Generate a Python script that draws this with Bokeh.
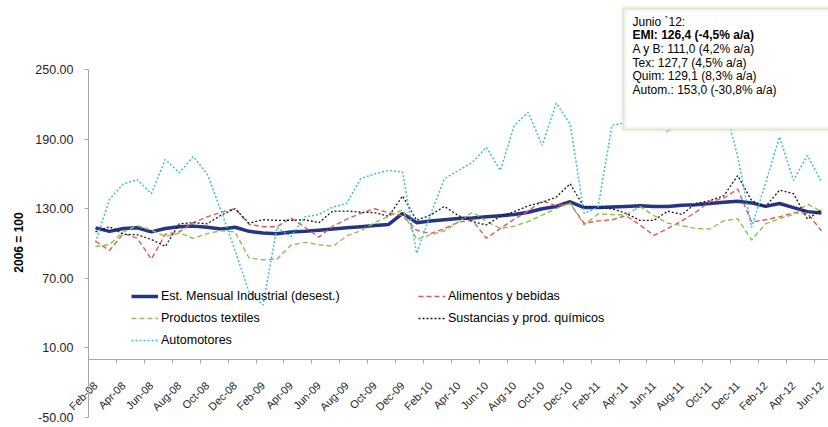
import numpy as np
from bokeh.plotting import figure
from bokeh.models import (FixedTicker, PrintfTickFormatter, Range1d, Legend, LegendItem,
                          BoxAnnotation, Label, ColumnDataSource)
from bokeh.embed import file_html
from bokeh.resources import INLINE

months = ["Feb-08", "Mar-08", "Apr-08", "May-08", "Jun-08", "Jul-08", "Aug-08", "Sep-08", "Oct-08", "Nov-08", "Dec-08",
          "Jan-09", "Feb-09", "Mar-09", "Apr-09", "May-09", "Jun-09", "Jul-09", "Aug-09", "Sep-09", "Oct-09", "Nov-09", "Dec-09",
          "Jan-10", "Feb-10", "Mar-10", "Apr-10", "May-10", "Jun-10", "Jul-10", "Aug-10", "Sep-10", "Oct-10", "Nov-10", "Dec-10",
          "Jan-11", "Feb-11", "Mar-11", "Apr-11", "May-11", "Jun-11", "Jul-11", "Aug-11", "Sep-11", "Oct-11", "Nov-11", "Dec-11",
          "Jan-12", "Feb-12", "Mar-12", "Apr-12", "May-12", "Jun-12"]

emi = [113.5, 110.5, 113, 113.5, 110, 113, 114.5, 115, 114, 112.5,
       114, 110.5, 109, 108.5, 110, 110.5, 111.5, 112.5, 113.5, 114.5,
       115.5, 116.5, 126, 118, 119.5, 120.5, 121.5, 122, 123, 124,
       125, 127, 130, 132, 136, 131, 131, 131.5, 132, 132.5,
       132, 132, 133, 133.5, 134.5, 135.5, 136.5, 135, 132, 134.5,
       131, 127.5, 126.4]
alimentos = [102, 94, 108.5, 104.5, 86.5, 108, 110, 118, 123, 127,
             130, 116.5, 114.5, 114.5, 122, 114, 105.5, 115, 121, 126,
             130, 126.5, 124, 111.5, 108.5, 113, 118.5, 120, 104.5, 113,
             121, 128, 137, 132.5, 134.5, 117.5, 119.5, 120.5, 124, 116,
             107, 113, 119.5, 127, 136, 139, 147, 118.5, 120.5, 123,
             126.5, 126, 111]
textiles = [97.5, 99, 110, 115.5, 111.5, 106, 109, 104.5, 108.5, 111,
            110, 87.5, 86, 86.5, 98.5, 101, 99, 97.5, 106.5, 111,
            118, 123.5, 129, 103.5, 107.5, 111, 118.5, 127, 119, 113,
            115, 119, 124.5, 130, 135, 116, 125.5, 125, 124.5, 132,
            124, 117.5, 115.5, 113, 112.5, 119.5, 121.5, 103, 117, 121.5,
            125, 134, 127.7]
quimicos = [110, 114.5, 108, 107.5, 103.5, 97.5, 117, 118, 117, 124.5,
            130, 117.5, 120.5, 120, 120, 120.5, 118, 128, 128, 127,
            126.5, 123.5, 141, 120, 124.5, 132, 124, 119, 116, 123.5,
            127.5, 132.5, 135.5, 140, 151.5, 131.5, 131, 130, 126, 120,
            120, 128, 125, 134.5, 137, 141, 158.5, 137, 132, 146,
            143, 121, 129.1]
automotores = [101, 138, 151.5, 155, 143, 172.5, 161, 175, 160, 128,
               94, 58, 47, 114, 106, 123, 125, 131.5, 134.5, 156,
               160, 163, 161.5, 91.5, 125, 156, 163, 170, 183, 163,
               202, 213, 184.5, 221, 203, 126, 131.5, 202, 204, 215,
               212, 196, 210, 216, 220, 222, 175, 114, 152, 192,
               154.5, 176, 153]

series_names = ["Est. Mensual Industrial (desest.)", "Alimentos y bebidas", "Productos textiles",
                "Sustancias y prod. químicos", "Automotores"]
y_ticks = [-50, 10, 70, 130, 190, 250]
y_title = "2006 = 100"
note_lines = ["Junio `12:", "EMI: 126,4 (-4,5% a/a)", "A y B: 111,0 (4,2% a/a)",
              "Tex: 127,7 (4,5% a/a)", "Quim: 129,1 (8,3% a/a)", "Autom.: 153,0 (-30,8% a/a)"]

FONT = "Liberation Sans"
W, H = 828, 427
n = len(months)
x = list(range(n))
src = ColumnDataSource(dict(x=x, emi=emi, ali=alimentos, tex=textiles, qui=quimicos, aut=automotores))

# frame covers the whole canvas; axes are placed at fixed data locations inside it
px0, pdx = 95.0, 13.96          # pixel position of first month and pixels per month
x_start = -px0 / pdx
x_end = (W - px0) / pdx
p = figure(width=W, height=H, output_backend="svg", toolbar_location=None,
           x_range=Range1d(x_start, x_end), y_range=Range1d(-58.6, 309.5),
           min_border_left=0, min_border_right=0, min_border_top=0, min_border_bottom=0)
p.outline_line_color = None
p.xgrid.visible = False
p.ygrid.visible = False
p.background_fill_color = "white"
p.border_fill_color = "white"

styles = [
    ("emi", "#253584", 3.5, "solid"),
    ("ali", "#e05a5a", 1.4, "5 3"),
    ("tex", "#8cc152", 1.4, "5 3"),
    ("qui", "#1a1a1a", 1.3, "2 2"),
    ("aut", "#3dbde0", 1.5, "2 2"),
]
renderers = []
for col, color, lw, dash in styles:
    r = p.line("x", col, source=src, line_color=color, line_width=lw, line_dash=dash)
    renderers.append(r)

AXIS_GREY = "#a6a6a6"

# x axis crossing at y = 0
xa = p.xaxis[0]
xa.fixed_location = 0
xa.bounds = (-0.5, n - 0.5)
even = x[::2]
xa.ticker = FixedTicker(ticks=even, minor_ticks=[i - 0.5 for i in even])
xa.major_label_overrides = {i: months[i] for i in even}
xa.major_label_orientation = np.pi / 4
xa.major_tick_line_color = None
xa.major_tick_out = 0
xa.major_tick_in = 0
xa.minor_tick_out = 4
xa.minor_tick_in = 0
xa.minor_tick_line_color = AXIS_GREY
xa.axis_line_color = AXIS_GREY
xa.major_label_text_font = FONT
xa.major_label_text_font_size = "11px"
xa.major_label_text_color = "#262626"
xa.major_label_standoff = 20

# y axis at the left edge of the first category
ya = p.yaxis[0]
ya.fixed_location = -0.5
ya.bounds = (-50, 250)
ya.ticker = FixedTicker(ticks=y_ticks)
ya.formatter = PrintfTickFormatter(format="%.2f")
ya.major_tick_out = 4
ya.major_tick_in = 0
ya.major_tick_line_color = AXIS_GREY
ya.minor_tick_line_color = None
ya.axis_line_color = AXIS_GREY
ya.major_label_text_font = FONT
ya.major_label_text_font_size = "12.5px"
ya.major_label_text_color = "#262626"
ya.major_label_standoff = 11

# y axis title, centred on the axis extent
p.add_layout(Label(x=18.5, y=H - 242, x_units="screen", y_units="screen", text=y_title, angle=np.pi / 2,
                   text_align="center", text_baseline="middle", text_font=FONT, text_font_size="12px",
                   text_font_style="bold", text_color="#000000"))

legend = Legend(items=[LegendItem(label=s, renderers=[r]) for s, r in zip(series_names, renderers)],
                location=(131, 80), orientation="horizontal", ncols=2,
                glyph_width=27, glyph_height=14, label_height=14, label_width=249,
                label_standoff=3, spacing=8, padding=0, margin=0,
                border_line_color=None, background_fill_alpha=0,
                label_text_font=FONT, label_text_font_size="12.5px", label_text_color="#000000")
p.add_layout(legend)

# annotation box (screen units relative to the frame)
box_kw = dict(left=623, right=W + 30, top=H - 8, bottom=H - 129,
              left_units="screen", right_units="screen", top_units="screen", bottom_units="screen")
p.add_layout(BoxAnnotation(fill_color="white", fill_alpha=1.0, line_color="#d6e5bf", line_width=6, **box_kw))
p.add_layout(BoxAnnotation(fill_alpha=0.0, line_color="#adc784", line_width=1.5, **box_kw))
for k, line in enumerate(note_lines):
    p.add_layout(Label(x=632, y=H - 21 - k * 13.7, x_units="screen", y_units="screen", text=line,
                       text_font=FONT, text_font_size="12px", text_baseline="middle",
                       text_color="#000000", text_font_style="bold" if k == 1 else "normal"))

open("out.html", "w").write(file_html(p, INLINE))
